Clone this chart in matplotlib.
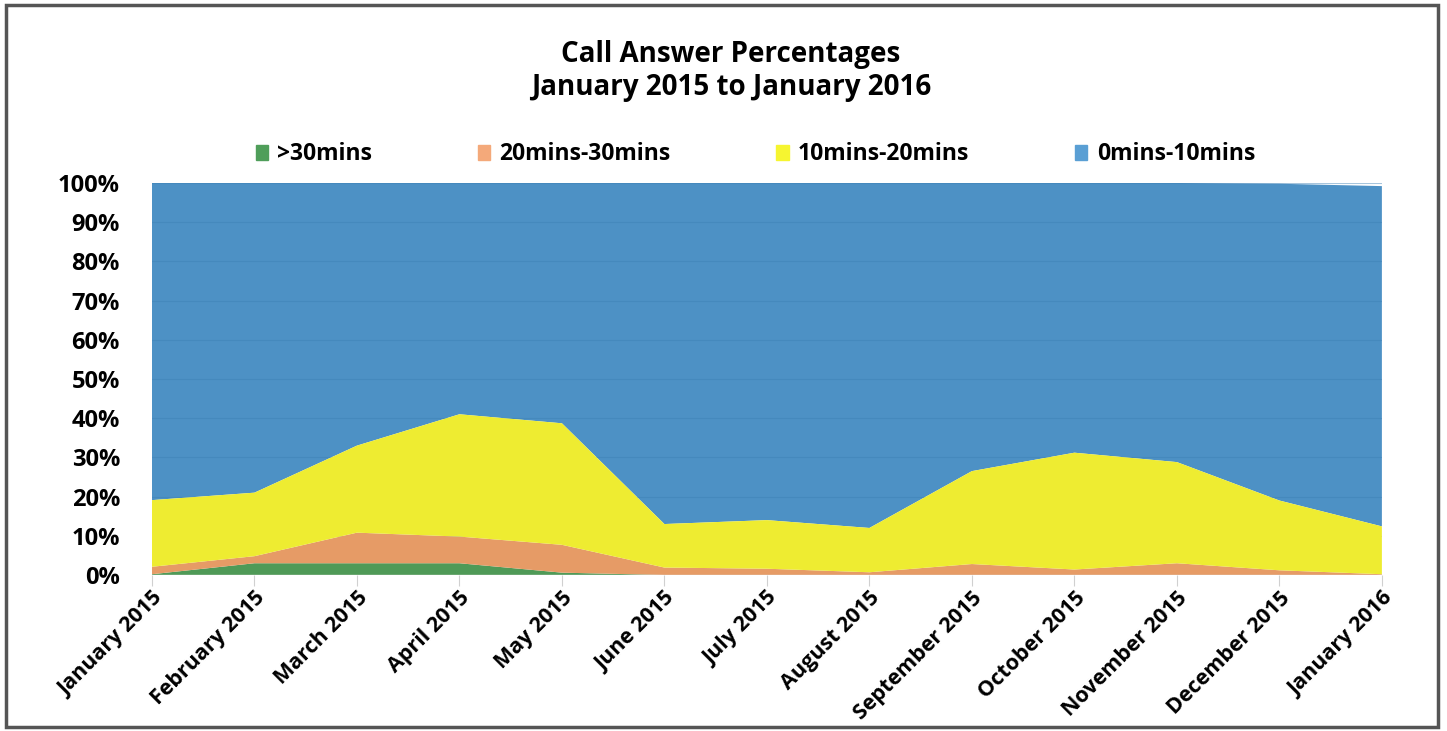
import matplotlib
matplotlib.use("Agg")
import matplotlib.pyplot as plt
from matplotlib.patches import Rectangle
from matplotlib.ticker import FuncFormatter

plt.rcParams['font.family'] = ['Open Sans', 'DejaVu Sans']

months = ["January 2015", "February 2015", "March 2015", "April 2015", "May 2015",
          "June 2015", "July 2015", "August 2015", "September 2015", "October 2015",
          "November 2015", "December 2015", "January 2016"]

# percentages per band (stacked bottom to top)
over_30 = [0.2, 3.0, 3.0, 3.0, 0.6, 0.0, 0.0, 0.0, 0.0, 0.0, 0.0, 0.0, 0.0]
mins_20_30 = [1.9, 1.8, 7.8, 6.8, 7.1, 1.9, 1.6, 0.7, 2.8, 1.4, 3.0, 1.2, 0.2]
mins_10_20 = [17.0, 16.2, 22.2, 31.2, 31.0, 11.1, 12.4, 11.3, 23.7, 29.8, 25.8, 17.8, 12.2]
mins_0_10 = [80.9, 79.0, 67.0, 59.0, 61.3, 87.0, 86.0, 88.0, 73.5, 68.8, 71.2, 80.8, 86.8]

labels = [">30mins", "20mins-30mins", "10mins-20mins", "0mins-10mins"]
colors = ["#4f9a57", "#e69b66", "#eeec31", "#4d91c5"]
legend_colors = ["#4f9e5a", "#f4a97a", "#f6f530", "#5a9fd4"]

fig = plt.figure(figsize=(14.47, 7.31), dpi=100)
ax = fig.add_axes([0.105, 0.2134, 0.850, 0.5363])

x = list(range(len(months)))
polys = ax.stackplot(x, over_30, mins_20_30, mins_10_20, mins_0_10,
                     colors=colors, linewidth=0)
# blue band sits under the grid, the other bands above it
for p in polys[:3]:
    p.set_zorder(3)
polys[3].set_zorder(1)

ax.set_xlim(0, len(months) - 1)
ax.set_ylim(0, 100)
ax.set_yticks(range(0, 101, 10))
ax.yaxis.set_major_formatter(FuncFormatter(lambda v, p: f"{int(v)}%"))
ax.grid(axis='y', color='#3d80b5', linewidth=0.8, alpha=0.45)
for gl in ax.get_ygridlines():
    gl.set_zorder(2)

ax.set_xticks(x)
ax.set_xticklabels(months, rotation=45, ha='right', rotation_mode='anchor',
                   fontsize=15.5, fontweight='bold')
ax.tick_params(axis='x', length=8, color='#d0d0d0', pad=1)
ax.tick_params(axis='y', length=0, labelsize=17, pad=23)
for lab in ax.get_yticklabels():
    lab.set_fontweight('bold')
for s in ax.spines.values():
    s.set_visible(False)
ax.axhline(0, color='#e0e0e0', linewidth=1, zorder=4)

fig.text(0.505, 0.926, "Call Answer Percentages", ha='center', va='center',
         fontsize=20, fontweight='bold')
fig.text(0.505, 0.880, "January 2015 to January 2016", ha='center', va='center',
         fontsize=20, fontweight='bold')

handles = [Rectangle((0, 0), 1, 1, color=c) for c in legend_colors]
fig.legend(handles, labels, loc='center', bbox_to_anchor=(0.522, 0.789), ncol=4,
           frameon=False, prop={'weight': 'bold', 'size': 16.5},
           handlelength=0.55, handleheight=0.65, handletextpad=0.4, columnspacing=4.6)

fig.patches.append(Rectangle((0.004, 0.005), 0.99, 0.988, transform=fig.transFigure,
                             fill=False, edgecolor='#555555', linewidth=2.5))

fig.savefig("out.png", dpi=100)
print('done')
